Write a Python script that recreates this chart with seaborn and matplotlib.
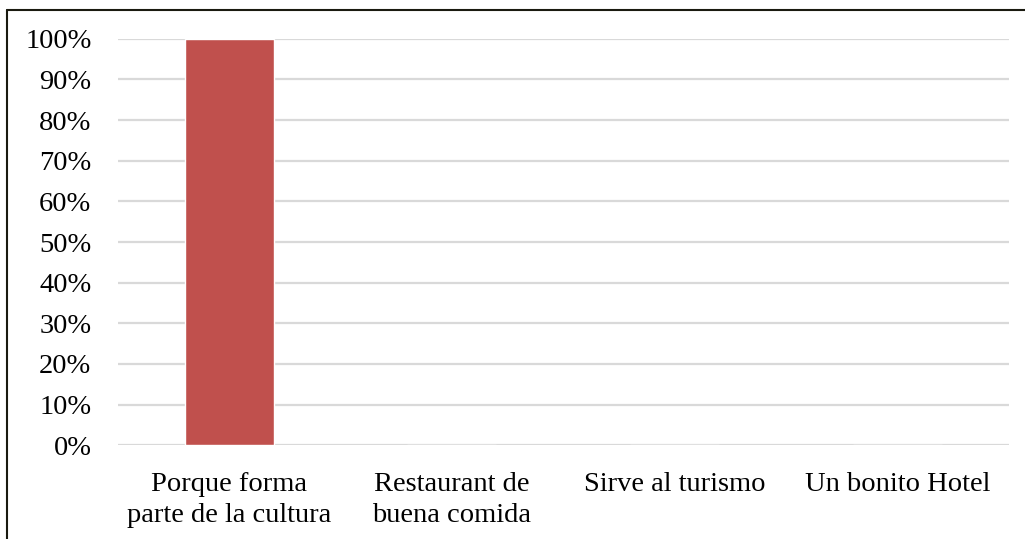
import pandas as pd
import seaborn as sns
import matplotlib.pyplot as plt
from matplotlib.lines import Line2D
from matplotlib.ticker import PercentFormatter

categories = ['Porque forma\nparte de la cultura', 'Restaurant de\nbuena comida',
              'Sirve al turismo', 'Un bonito Hotel']
values = [1.0, 0.0, 0.0, 0.0]

df = pd.DataFrame({'motivo': categories, 'valor': values})

sns.set_style('white')
plt.rcParams['font.family'] = ['Liberation Serif', 'DejaVu Serif']

fig = plt.figure(figsize=(10.25, 5.39), dpi=100)
ax = fig.add_axes([0.115, 0.174, 0.869, 0.754])

sns.barplot(data=df, x='motivo', y='valor', color='#C0504D', width=0.4,
            saturation=1, ax=ax, zorder=3)

ax.set_ylim(0, 1.0)
ax.set_yticks([i / 10 for i in range(11)])
ax.yaxis.set_major_formatter(PercentFormatter(1.0, decimals=0))
ax.grid(axis='y', color='#d9d9d9', linewidth=1.6, zorder=0)
ax.set_axisbelow(True)
for s in ax.spines.values():
    s.set_visible(False)
ax.tick_params(axis='both', length=0, labelsize=20.5, colors='black')
ax.tick_params(axis='y', pad=19)
ax.tick_params(axis='x', pad=19)
for lbl in ax.get_xticklabels():
    lbl.set_linespacing(1.35)
ax.set_xlabel('')
ax.set_ylabel('')

# chart border (top and left visible)
fig.add_artist(Line2D([0.007, 1.0], [0.981, 0.981], color='#1a1a10', linewidth=1.5))
fig.add_artist(Line2D([0.007, 0.007], [0.0, 0.981], color='#1a1a10', linewidth=1.5))

fig.savefig('out.png', dpi=100)
